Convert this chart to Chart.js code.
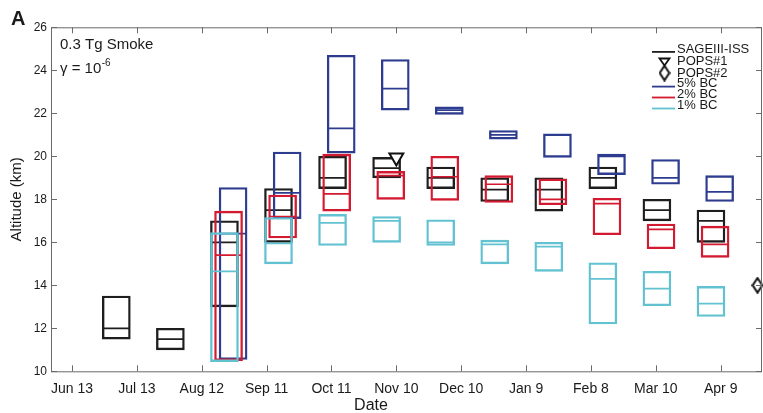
<!DOCTYPE html>
<html>
<head>
<meta charset="utf-8">
<script src="https://cdn.jsdelivr.net/npm/chart.js@4.4.1/dist/chart.umd.min.js"></script>
<style>
  html, body { margin: 0; padding: 0; background: #fff; overflow: hidden; }
  #wrap { width: 763px; height: 413px; position: relative; }
  canvas { display: block; }
</style>
</head>
<body>
<div id="wrap"><canvas id="c" width="763" height="413"></canvas></div>
<script>
// Time axis is counted in days from Jun 13
const tickDays   = [0, 30, 60, 90, 120, 150, 180, 210, 240, 270, 300];
const tickLabels = ['Jun 13', 'Jul 13', 'Aug 12', 'Sep 11', 'Oct 11', 'Nov 10', 'Dec 10', 'Jan 9', 'Feb 8', 'Mar 10', 'Apr 9'];
const altTicks   = [10, 12, 14, 16, 18, 20, 22, 24, 26];

// SAGE III-ISS observations: box = spread, line = median (km)
const sageDays = [20.5, 45.5, 70.5, 95.5, 120.5, 145.5, 170.5, 195.5, 220.5, 245.5, 270.5, 295.5];
const sageLow  = [11.5, 11.0, 13.0, 16.0, 18.5, 19.0, 18.5, 17.9, 17.45, 18.5, 17.0, 16.0];
const sageHigh = [13.5, 12.0, 17.0, 18.5, 20.0, 19.95, 19.5, 19.0, 19.0, 19.5, 18.0, 17.5];
const sageMed  = [12.0, 11.5, 16.0, 17.5, 19.0, 19.45, 19.0, 18.45, 18.45, 19.0, 17.5, 17.0];

// Model runs with different black-carbon fractions
const modelDays = [70.5, 95.5, 120.5, 145.5, 170.5, 195.5, 220.5, 245.5, 270.5, 295.5];
const bc5Low  = [10.55, 17.1, 20.15, 22.15, 21.95, 20.8, 19.95, 19.15, 18.7, 17.9];
const bc5High = [18.55, 20.2, 24.7, 24.5, 22.3, 21.2, 21.05, 20.1, 19.85, 19.1];
const bc5Med  = [16.4, 18.3, 21.3, 23.15, 22.15, 21.0, 20.98, 20.0, 19.0, 18.35];

const bc2Low  = [10.5, 16.2, 17.45, 18.0, 17.95, 17.85, 17.75, 16.35, 15.7, 15.3];
const bc2High = [17.45, 18.2, 20.1, 19.3, 20.0, 19.1, 18.95, 18.05, 16.85, 16.75];
const bc2Med  = [15.4, 17.2, 18.25, 19.1, 19.05, 18.7, 18.0, 17.8, 16.6, 15.9];

const bc1Low  = [10.45, 15.0, 15.85, 16.0, 15.85, 15.0, 14.65, 12.2, 13.05, 12.55];
const bc1High = [16.45, 17.15, 17.3, 17.2, 17.05, 16.1, 16.0, 15.05, 14.65, 13.95];
const bc1Med  = [14.65, 15.95, 16.9, 17.0, 16.0, 15.9, 15.8, 14.3, 13.85, 13.15];

// Balloon soundings
const pops1Day = [150], pops1Alt = [19.95];
const pops2Day = [317], pops2Alt = [14.0];

// ---- styling ----
const COLORS = { sage: '#1e1e1e', bc5: '#2d3c8f', bc2: '#d31a30', bc1: '#62c2d2' };
const SHIFT  = { sage: 0, bc5: 4.0, bc2: 1.9, bc1: 0 };   // small horizontal stagger, days
const BOX_W = 28, LINE_W = 1.7;
const FONT = '"Liberation Sans", Arial, Helvetica, sans-serif';

function boxSet(label, days, lo, hi, color, shift, order) {
  return {
    type: 'bar', label, order,
    data: days.map((d, i) => ({ x: d + shift, y: [lo[i], hi[i]] })),
    backgroundColor: 'rgba(0,0,0,0)', borderColor: color, borderWidth: LINE_W,
    borderSkipped: false, grouped: false, barThickness: BOX_W
  };
}
function medianSet(label, days, med, color, shift, order) {
  return {
    type: 'scatter', label, order,
    data: days.map((d, i) => ({ x: d + shift, y: med[i] })),
    pointStyle: 'line', pointRadius: BOX_W / 2 - 1, pointHoverRadius: BOX_W / 2 - 1,
    borderColor: color, borderWidth: LINE_W
  };
}

// MATLAB-like tall diamond marker
function diamondCanvas() {
  const c = document.createElement('canvas');
  c.width = 12; c.height = 17;
  const g = c.getContext('2d');
  g.beginPath();
  g.moveTo(6, 1.2); g.lineTo(10.8, 8.5); g.lineTo(6, 15.8); g.lineTo(1.2, 8.5); g.closePath();
  g.fillStyle = '#fff'; g.fill();
  g.lineWidth = 2; g.strokeStyle = '#111'; g.stroke();
  return c;
}
const diamond = diamondCanvas();

const datasets = [
  medianSet('SAGE median', sageDays, sageMed, COLORS.sage, SHIFT.sage, 8),
  boxSet('SAGEIII-ISS', sageDays, sageLow, sageHigh, COLORS.sage, SHIFT.sage, 8),
  medianSet('5% median', modelDays, bc5Med, COLORS.bc5, SHIFT.bc5, 6),
  boxSet('5% BC', modelDays, bc5Low, bc5High, COLORS.bc5, SHIFT.bc5, 6),
  medianSet('2% median', modelDays, bc2Med, COLORS.bc2, SHIFT.bc2, 4),
  boxSet('2% BC', modelDays, bc2Low, bc2High, COLORS.bc2, SHIFT.bc2, 4),
  medianSet('1% median', modelDays, bc1Med, COLORS.bc1, SHIFT.bc1, 2),
  boxSet('1% BC', modelDays, bc1Low, bc1High, COLORS.bc1, SHIFT.bc1, 2),
  {
    type: 'scatter', label: 'POPS#1', order: 0,
    data: pops1Day.map((d, i) => ({ x: d, y: pops1Alt[i] })),
    pointStyle: 'triangle', rotation: 180, pointRadius: 8,
    backgroundColor: '#fff', borderColor: '#111', borderWidth: 2
  },
  {
    type: 'scatter', label: 'POPS#2', order: 0, clip: false,
    data: pops2Day.map((d, i) => ({ x: d, y: pops2Alt[i] })),
    pointStyle: diamond, pointRadius: 8
  }
];

// Frame, inward ticks, date labels, annotations, legend and x title
const decor = {
  id: 'decor',
  afterDraw(chart) {
    const { ctx, chartArea: a, scales: { x, y } } = chart;
    ctx.save();
    ctx.strokeStyle = '#6a6a6a';
    ctx.lineWidth = 1;
    ctx.strokeRect(a.left + 0.5, a.top + 0.5, a.right - a.left - 1, a.bottom - a.top);
    const TL = 6;
    ctx.beginPath();
    tickDays.forEach(v => {
      const px = Math.round(x.getPixelForValue(v)) + 0.5;
      ctx.moveTo(px, a.bottom); ctx.lineTo(px, a.bottom - TL);
      ctx.moveTo(px, a.top); ctx.lineTo(px, a.top + TL);
    });
    altTicks.forEach(v => {
      const py = Math.round(y.getPixelForValue(v)) + 0.5;
      ctx.moveTo(a.left, py); ctx.lineTo(a.left + TL, py);
      ctx.moveTo(a.right, py); ctx.lineTo(a.right - TL, py);
    });
    ctx.stroke();

    ctx.fillStyle = '#1a1a1a';
    ctx.textBaseline = 'alphabetic';

    // date tick labels
    ctx.textAlign = 'center';
    ctx.font = '14px ' + FONT;
    tickDays.forEach((v, i) => ctx.fillText(tickLabels[i], x.getPixelForValue(v), a.bottom + 22));

    ctx.font = '16px ' + FONT;
    ctx.fillText('Date', 371, 410);

    ctx.textAlign = 'left';
    ctx.font = 'bold 20px ' + FONT;
    ctx.fillText('A', 11, 25);

    ctx.font = '15px ' + FONT;
    ctx.fillText('0.3 Tg Smoke', 60, 49);
    const g = 'γ = 10';
    ctx.fillText(g, 60, 73);
    const gw = ctx.measureText(g).width;
    ctx.font = '10px ' + FONT;
    ctx.fillText('-6', 60 + gw + 0.5, 66);

    // legend
    const lx0 = 652, lx1 = 675, tx = 677;
    ctx.font = '13px ' + FONT;
    const items = [
      { t: 'SAGEIII-ISS', c: COLORS.sage, base: 52.7, kind: 'line' },
      { t: 'POPS#1', base: 64.8, kind: 'tri' },
      { t: 'POPS#2', base: 76.5, kind: 'dia' },
      { t: '5% BC', c: COLORS.bc5, base: 87.4, kind: 'line' },
      { t: '2% BC', c: COLORS.bc2, base: 98.3, kind: 'line' },
      { t: '1% BC', c: COLORS.bc1, base: 109.3, kind: 'line' }
    ];
    items.forEach(it => {
      if (it.kind === 'line') {
        ctx.strokeStyle = it.c; ctx.lineWidth = 1.8;
        ctx.beginPath(); ctx.moveTo(lx0, it.base - 0.8); ctx.lineTo(lx1, it.base - 0.8); ctx.stroke();
      } else if (it.kind === 'tri') {
        ctx.strokeStyle = '#111'; ctx.lineWidth = 1.8;
        ctx.beginPath();
        ctx.moveTo(659.5, 58.5); ctx.lineTo(669.5, 58.5); ctx.lineTo(664.5, 65.5); ctx.closePath();
        ctx.stroke();
      } else {
        ctx.drawImage(diamond, 658.5, 64.5, 12, 17);
      }
      ctx.fillStyle = '#1a1a1a';
      ctx.fillText(it.t, tx, it.base);
    });
    ctx.restore();
  }
};

new Chart(document.getElementById('c'), {
  type: 'bar',
  data: { datasets },
  options: {
    responsive: false,
    animation: false,
    events: [],
    layout: { autoPadding: false, padding: { top: 27.3, right: 1, left: 0, bottom: 0 } },
    plugins: { legend: { display: false }, tooltip: { enabled: false } },
    scales: {
      x: {
        type: 'linear',
        min: -9.71, max: 319.1,
        offset: false,
        grid: { display: false, offset: false, drawTicks: false, tickLength: 0 },
        border: { display: false },
        afterBuildTicks: s => { s.ticks = tickDays.map(v => ({ value: v })); },
        afterFit: s => { s.height = 41.7; },
        ticks: { display: false }
      },
      y: {
        type: 'linear',
        min: 10, max: 26,
        grid: { display: false, drawTicks: false, tickLength: 0 },
        border: { display: false },
        afterBuildTicks: s => { s.ticks = altTicks.map(v => ({ value: v })); },
        afterFit: s => { s.width = 51; },
        ticks: { padding: 4, color: '#1a1a1a', font: { family: FONT, size: 12 } },
        title: {
          display: true, text: 'Altitude (km)', color: '#1a1a1a',
          font: { family: FONT, size: 15 }, padding: { top: 8, bottom: 0 }
        }
      }
    }
  },
  plugins: [decor]
});
</script>
</body>
</html>
